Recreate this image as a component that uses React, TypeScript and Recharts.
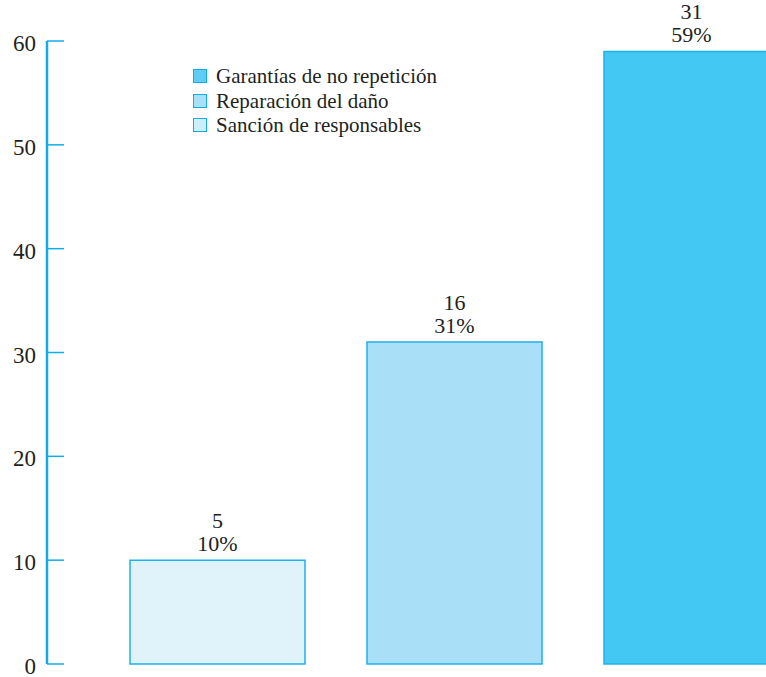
import React from "react";
import { BarChart, Bar, XAxis, YAxis, LabelList, Cell } from "recharts";

const categories = [
  "Sanción de responsables",
  "Reparación del daño",
  "Garantías de no repetición",
];
const counts = [5, 16, 31];
const percents = [10, 31, 59];
const yTicks = [0, 10, 20, 30, 40, 50, 60];

const barColors = ["#E0F3FA", "#AADFF8", "#43C8F4"];
const legendColors = ["#CDEEFA", "#AADFF8", "#5FCDF3"];
const axisColor = "#0FADE8";
const textColor = "#231F20";
const font = "'Liberation Serif', 'Times New Roman', serif";

const data = categories.map((name, i) => ({
  name,
  count: counts[i],
  percent: percents[i],
}));

// tick line drawn inside the plot, label to the left
const YTick = (props: any) => {
  const { x, y, payload } = props;
  return (
    <g>
      <line x1={x} x2={x + 17} y1={y} y2={y} stroke={axisColor} strokeWidth={1.5} />
      <text
        x={x - 11}
        y={y + 10}
        textAnchor="end"
        fontSize={23}
        fontFamily={font}
        fill={textColor}
      >
        {payload.value}
      </text>
    </g>
  );
};

const BarLabel = (props: any) => {
  const { x, y, width, index } = props;
  const cx = x + width / 2;
  return (
    <g fontFamily={font} fontSize={22} fill={textColor} textAnchor="middle">
      <text x={cx} y={y - 32}>
        {counts[index]}
      </text>
      <text x={cx} y={y - 9}>
        {percents[index]}%
      </text>
    </g>
  );
};

export default function App() {
  // legend lists series in reverse (largest first)
  const legendOrder = [2, 1, 0];

  return (
    <div
      style={{
        position: "fixed",
        left: 0,
        top: 0,
        width: 766,
        height: 677,
        overflow: "hidden",
        background: "#fff",
      }}
    >
      <BarChart
        width={810}
        height={677}
        data={data}
        margin={{ top: 41, right: 0, left: 0, bottom: 13 }}
        style={{ overflow: "visible" }}
      >
        <XAxis
          dataKey="name"
          height={0}
          tick={false}
          tickLine={false}
          axisLine={{ stroke: axisColor, strokeWidth: 2 }}
          padding={{ left: 52, right: 0 }}
        />
        <YAxis
          width={47}
          domain={[0, 60]}
          ticks={yTicks}
          interval={0}
          tickSize={0}
          tickMargin={0}
          tickLine={false}
          axisLine={{ stroke: axisColor, strokeWidth: 2.5 }}
          tick={<YTick />}
        />
        <Bar
          dataKey="percent"
          barSize={175}
          stroke="#1CB2EA"
          strokeWidth={1.5}
          isAnimationActive={false}
        >
          {data.map((d, i) => (
            <Cell key={d.name} fill={barColors[i]} />
          ))}
          <LabelList dataKey="percent" content={<BarLabel />} />
        </Bar>
      </BarChart>

      {/* Legend */}
      <div
        style={{
          position: "absolute",
          left: 193,
          top: 64,
          fontFamily: font,
          fontSize: 21,
          color: textColor,
          lineHeight: "24.5px",
        }}
      >
        {legendOrder.map((i) => (
          <div key={categories[i]} style={{ display: "flex", alignItems: "center" }}>
            <span
              style={{
                display: "inline-block",
                width: 12,
                height: 12,
                background: legendColors[i],
                border: `1px solid ${axisColor}`,
                marginRight: 9,
              }}
            />
            {categories[i]}
          </div>
        ))}
      </div>
    </div>
  );
}
